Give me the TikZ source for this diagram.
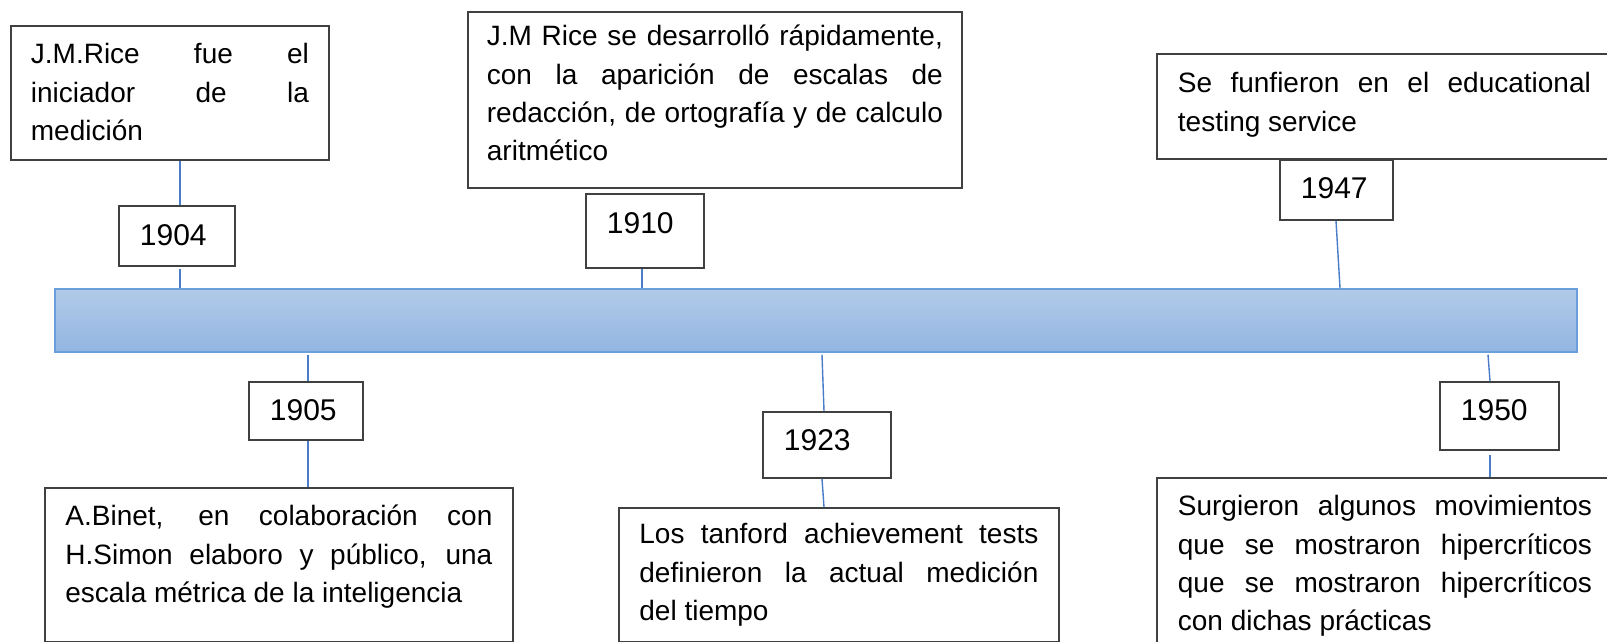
\documentclass[tikz,border=0pt]{standalone}
\usepackage{fontspec}
\setmainfont{Liberation Sans}
\usetikzlibrary{calc}
\definecolor{boxgray}{HTML}{404040}
\definecolor{barline}{HTML}{6A9FDB}
\definecolor{bartop}{HTML}{B1CAE9}
\definecolor{barbot}{HTML}{93B6E2}
\definecolor{connblue}{HTML}{4A7CC9}
\newcommand\jl[1]{\makebox[\linewidth][s]{#1}\par}
\newcommand\txtfont{\fontsize{28}{38.3}\selectfont}
\newcommand\yrfont{\fontsize{30}{36}\selectfont}
\begin{document}
\begin{tikzpicture}[x=1pt,y=-1pt,
  box/.style={draw=boxgray,line width=1.8pt,inner xsep=20pt,inner ysep=0pt,anchor=north west,fill=white},
  yearbox/.style={box,inner xsep=21pt},
  connline/.style={draw=connblue,line width=1.4pt}]
\useasboundingbox (0,0) rectangle (1607,642);
\clip (0,0) rectangle (1607,642);
\fill[white] (0,0) rectangle (1607,642);

% timeline bar
\node[draw=barline,line width=1.6pt,top color=bartop,bottom color=barbot,
      minimum width=1522pt,minimum height=63pt,inner sep=0pt,anchor=north west] (bar) at (54,288) {};

% text boxes
\node[box] (b1) at (10,25) {\parbox[c][134pt][t]{278pt}{\txtfont\rule{0pt}{38pt}\jl{J.M.Rice fue el}\jl{iniciador de la}medición}};
\node[box,inner xsep=19pt] (b2) at (467,11) {\parbox[c][176pt][t]{456pt}{\txtfont\rule{0pt}{34pt}\jl{J.M Rice se desarrolló rápidamente,}\jl{con la aparición de escalas de}\jl{redacción, de ortografía y de calculo}aritmético}};
\node[box,inner xsep=21pt] (b3) at (1156,53) {\parbox[c][105pt][t]{413pt}{\txtfont\rule{0pt}{39pt}\jl{Se funfieron en el educational}testing service}};
\node[box,inner xsep=20.5pt] (b4) at (44,487) {\parbox[c][154pt][t]{427pt}{\txtfont\rule{0pt}{38pt}\jl{A.Binet, en colaboración con}\jl{H.Simon elaboro y público, una}escala métrica de la inteligencia}};
\node[box,inner xsep=20.5pt] (b5) at (618,507) {\parbox[c][134pt][t]{399pt}{\txtfont\rule{0pt}{36pt}\jl{Los tanford achievement tests}\jl{definieron la actual medición}del tiempo}};
\node[box,inner xsep=21pt] (b6) at (1156,477) {\parbox[c][200pt][t]{414pt}{\txtfont\rule{0pt}{38pt}\jl{Surgieron algunos movimientos}\jl{que se mostraron hipercríticos}\jl{que se mostraron hipercríticos}con dichas prácticas}};

% year boxes
\node[yearbox] (y1904) at (118,205) {\parbox[c][60pt][t]{74pt}{\yrfont\rule{0pt}{40pt}1904}};
\node[yearbox] (y1910) at (585,193) {\parbox[c][74pt][t]{76pt}{\yrfont\rule{0pt}{40pt}1910}};
\node[yearbox] (y1947) at (1279,159) {\parbox[c][60pt][t]{71pt}{\yrfont\rule{0pt}{39pt}1947}};
\node[yearbox] (y1905) at (248,381) {\parbox[c][58pt][t]{72pt}{\yrfont\rule{0pt}{39pt}1905}};
\node[yearbox] (y1923) at (762,411) {\parbox[c][66pt][t]{86pt}{\yrfont\rule{0pt}{39pt}1923}};
\node[yearbox] (y1950) at (1439,381) {\parbox[c][68pt][t]{77pt}{\yrfont\rule{0pt}{39pt}1950}};

% connectors
\draw[connline] ($(b1.south west)+(170,0)$) -- ($(y1904.north west)+(62,0)$);
\draw[connline] ($(y1904.south west)+(62,2)$) -- ($(bar.north west)+(126,0)$);
\draw[connline] ($(y1910.south west)+(57,0)$) -- ($(bar.north west)+(588,0)$);
\draw[connline] ($(y1947.south west)+(57,0)$) -- ($(bar.north west)+(1286,0)$);
\draw[connline] ($(bar.south west)+(254,2)$) -- ($(y1905.north west)+(60,0)$);
\draw[connline] ($(y1905.south west)+(60,0)$) -- ($(b4.north west)+(264,0)$);
\draw[connline] ($(bar.south west)+(768,2)$) -- ($(y1923.north west)+(62,0)$);
\draw[connline] ($(y1923.south west)+(60,0)$) -- ($(b5.north west)+(206,0)$);
\draw[connline] ($(bar.south west)+(1434,2)$) -- ($(y1950.north west)+(51,0)$);
\draw[connline] ($(y1950.south west)+(51,4)$) -- ($(b6.north west)+(334,0)$);
\end{tikzpicture}
\end{document}
